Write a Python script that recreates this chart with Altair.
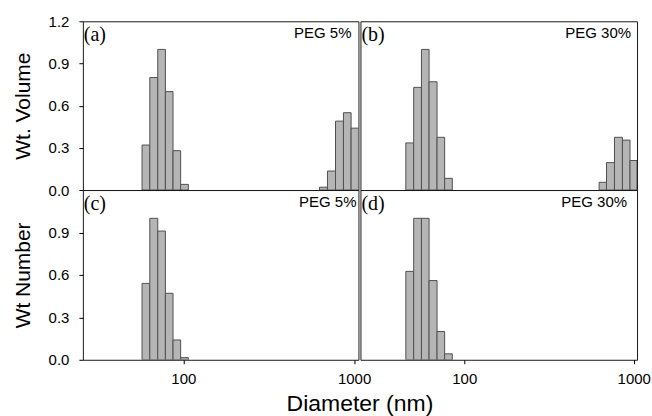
import altair as alt
import pandas as pd

# ---- data (diameter bin edges in nm, heights) ----
a_edges_1 = [57.3, 63.6, 70.8, 78.5, 87.0, 96.4, 107.0]
a_vals_1 = [0.32, 0.80, 1.00, 0.70, 0.28, 0.04]
a_edges_2 = [627, 698, 778, 866, 960, 1060]
a_vals_2 = [0.02, 0.135, 0.49, 0.55, 0.44]

b_edges_1 = [45.2, 50.3, 55.9, 62.0, 69.1, 76.6, 85.0]
b_vals_1 = [0.335, 0.73, 1.00, 0.77, 0.375, 0.083]
b_edges_2 = [625, 691, 770, 858, 951, 1046]
b_vals_2 = [0.055, 0.195, 0.375, 0.355, 0.21]

c_edges = [57.3, 63.6, 70.8, 78.5, 87.0, 96.4, 107.0]
c_vals = [0.54, 1.00, 0.91, 0.47, 0.14, 0.015]

d_edges = [45.2, 50.3, 55.9, 62.0, 69.1, 76.6, 85.0]
d_vals = [0.625, 1.00, 1.00, 0.56, 0.20, 0.042]

left_domain = [25.8, 1060]
right_domain = [24.4, 1046]
y_ticks = [0.0, 0.3, 0.6, 0.9, 1.2]
x_ticks = [100, 1000]

FILL = "#b5b5b5"
EDGE = "#505050"
SANS = "Liberation Sans"
SERIF = "Liberation Serif"

HIDDEN = dict(labels=False, ticks=False, title=None, domain=False, grid=False)


def rows(edges, vals):
    return [{"lo": edges[i], "hi": edges[i + 1], "v": vals[i]} for i in range(len(vals))]


def panel(data_rows, domain, letter, peg, peg_dx, w, h, ytitle=None, yvals=None,
          xaxis=False, xtitle=None):
    df = pd.DataFrame(data_rows)
    xscale = alt.Scale(type="log", domain=domain, nice=False)
    yscale = alt.Scale(domain=[0, 1.2], nice=False, zero=True)
    if xaxis:
        kw = dict(values=x_ticks, format="d", labelFontSize=15, labelPadding=8,
                  tickSize=4, labelFlush=False, domain=False, grid=False,
                  labelFont=SANS, labelColor="black", tickColor="black")
        if xtitle:
            kw.update(title=xtitle, titleFontSize=23, titleFontWeight="normal",
                      titleX=277, titleY=51, titleBaseline="alphabetic",
                      titleAlign="center", titleFont=SANS, titleColor="black")
        else:
            kw.update(title=None)
        xax = alt.Axis(**kw)
    else:
        xax = alt.Axis(**HIDDEN)
    if ytitle is not None:
        yax = alt.Axis(values=yvals, format=".1f", labelFontSize=15, labelPadding=10,
                       tickSize=4, title=ytitle, titleFontSize=21, titleFontWeight="normal",
                       titlePadding=15, domain=False, grid=False, labelFont=SANS,
                       titleFont=SANS, labelColor="black", titleColor="black",
                       tickColor="black")
    else:
        yax = alt.Axis(**HIDDEN)
    bars = alt.Chart(df).mark_rect(fill=FILL, stroke=EDGE, strokeWidth=1, clip=True).encode(
        x=alt.X("lo:Q", scale=xscale, axis=xax),
        x2="hi:Q",
        y=alt.Y("v:Q", scale=yscale, axis=yax),
        y2=alt.datum(0),
    )
    lab_df = pd.DataFrame({"lo": [domain[0]], "v": [1.2], "t": [letter]})
    lab = alt.Chart(lab_df).mark_text(font=SERIF, fontSize=20, align="left",
                                      baseline="alphabetic", dx=1, dy=19.5,
                                      color="black").encode(
        x=alt.X("lo:Q", scale=xscale, axis=xax),
        y=alt.Y("v:Q", scale=yscale, axis=yax),
        text="t:N",
    )
    peg_df = pd.DataFrame({"lo": [domain[1]], "v": [1.2], "t": [peg]})
    pg = alt.Chart(peg_df).mark_text(font=SANS, fontSize=15, align="right",
                                     baseline="alphabetic", dx=peg_dx, dy=16.5,
                                     color="black").encode(
        x=alt.X("lo:Q", scale=xscale, axis=xax),
        y=alt.Y("v:Q", scale=yscale, axis=yax),
        text="t:N",
    )
    return alt.layer(bars, lab, pg).properties(width=w, height=h)


pa = panel(rows(a_edges_1, a_vals_1) + rows(a_edges_2, a_vals_2), left_domain, "(a)", "PEG 5%", -7,
           276, 169, ytitle="Wt. Volume", yvals=y_ticks)
pb = panel(rows(b_edges_1, b_vals_1) + rows(b_edges_2, b_vals_2), right_domain, "(b)", "PEG 30%", -6,
           277, 169)
pc = panel(rows(c_edges, c_vals), left_domain, "(c)", "PEG 5%", -2,
           276, 170, ytitle="Wt Number", yvals=y_ticks[:4], xaxis=True,
           xtitle="Diameter (nm)")
pd_ = panel(rows(d_edges, d_vals), right_domain, "(d)", "PEG 30%", -10,
            277, 170, xaxis=True)

chart = alt.concat(pa, pb, pc, pd_, columns=2, spacing={"row": 0, "column": 2},
                   bounds="flush").resolve_scale(x="independent", y="independent").properties(
    padding={"left": 11, "top": 13, "right": 1, "bottom": 2}
).configure_view(stroke="#1a1a1a", strokeWidth=1)

chart.save("out.html", embed_options={"renderer": "svg", "actions": False})
